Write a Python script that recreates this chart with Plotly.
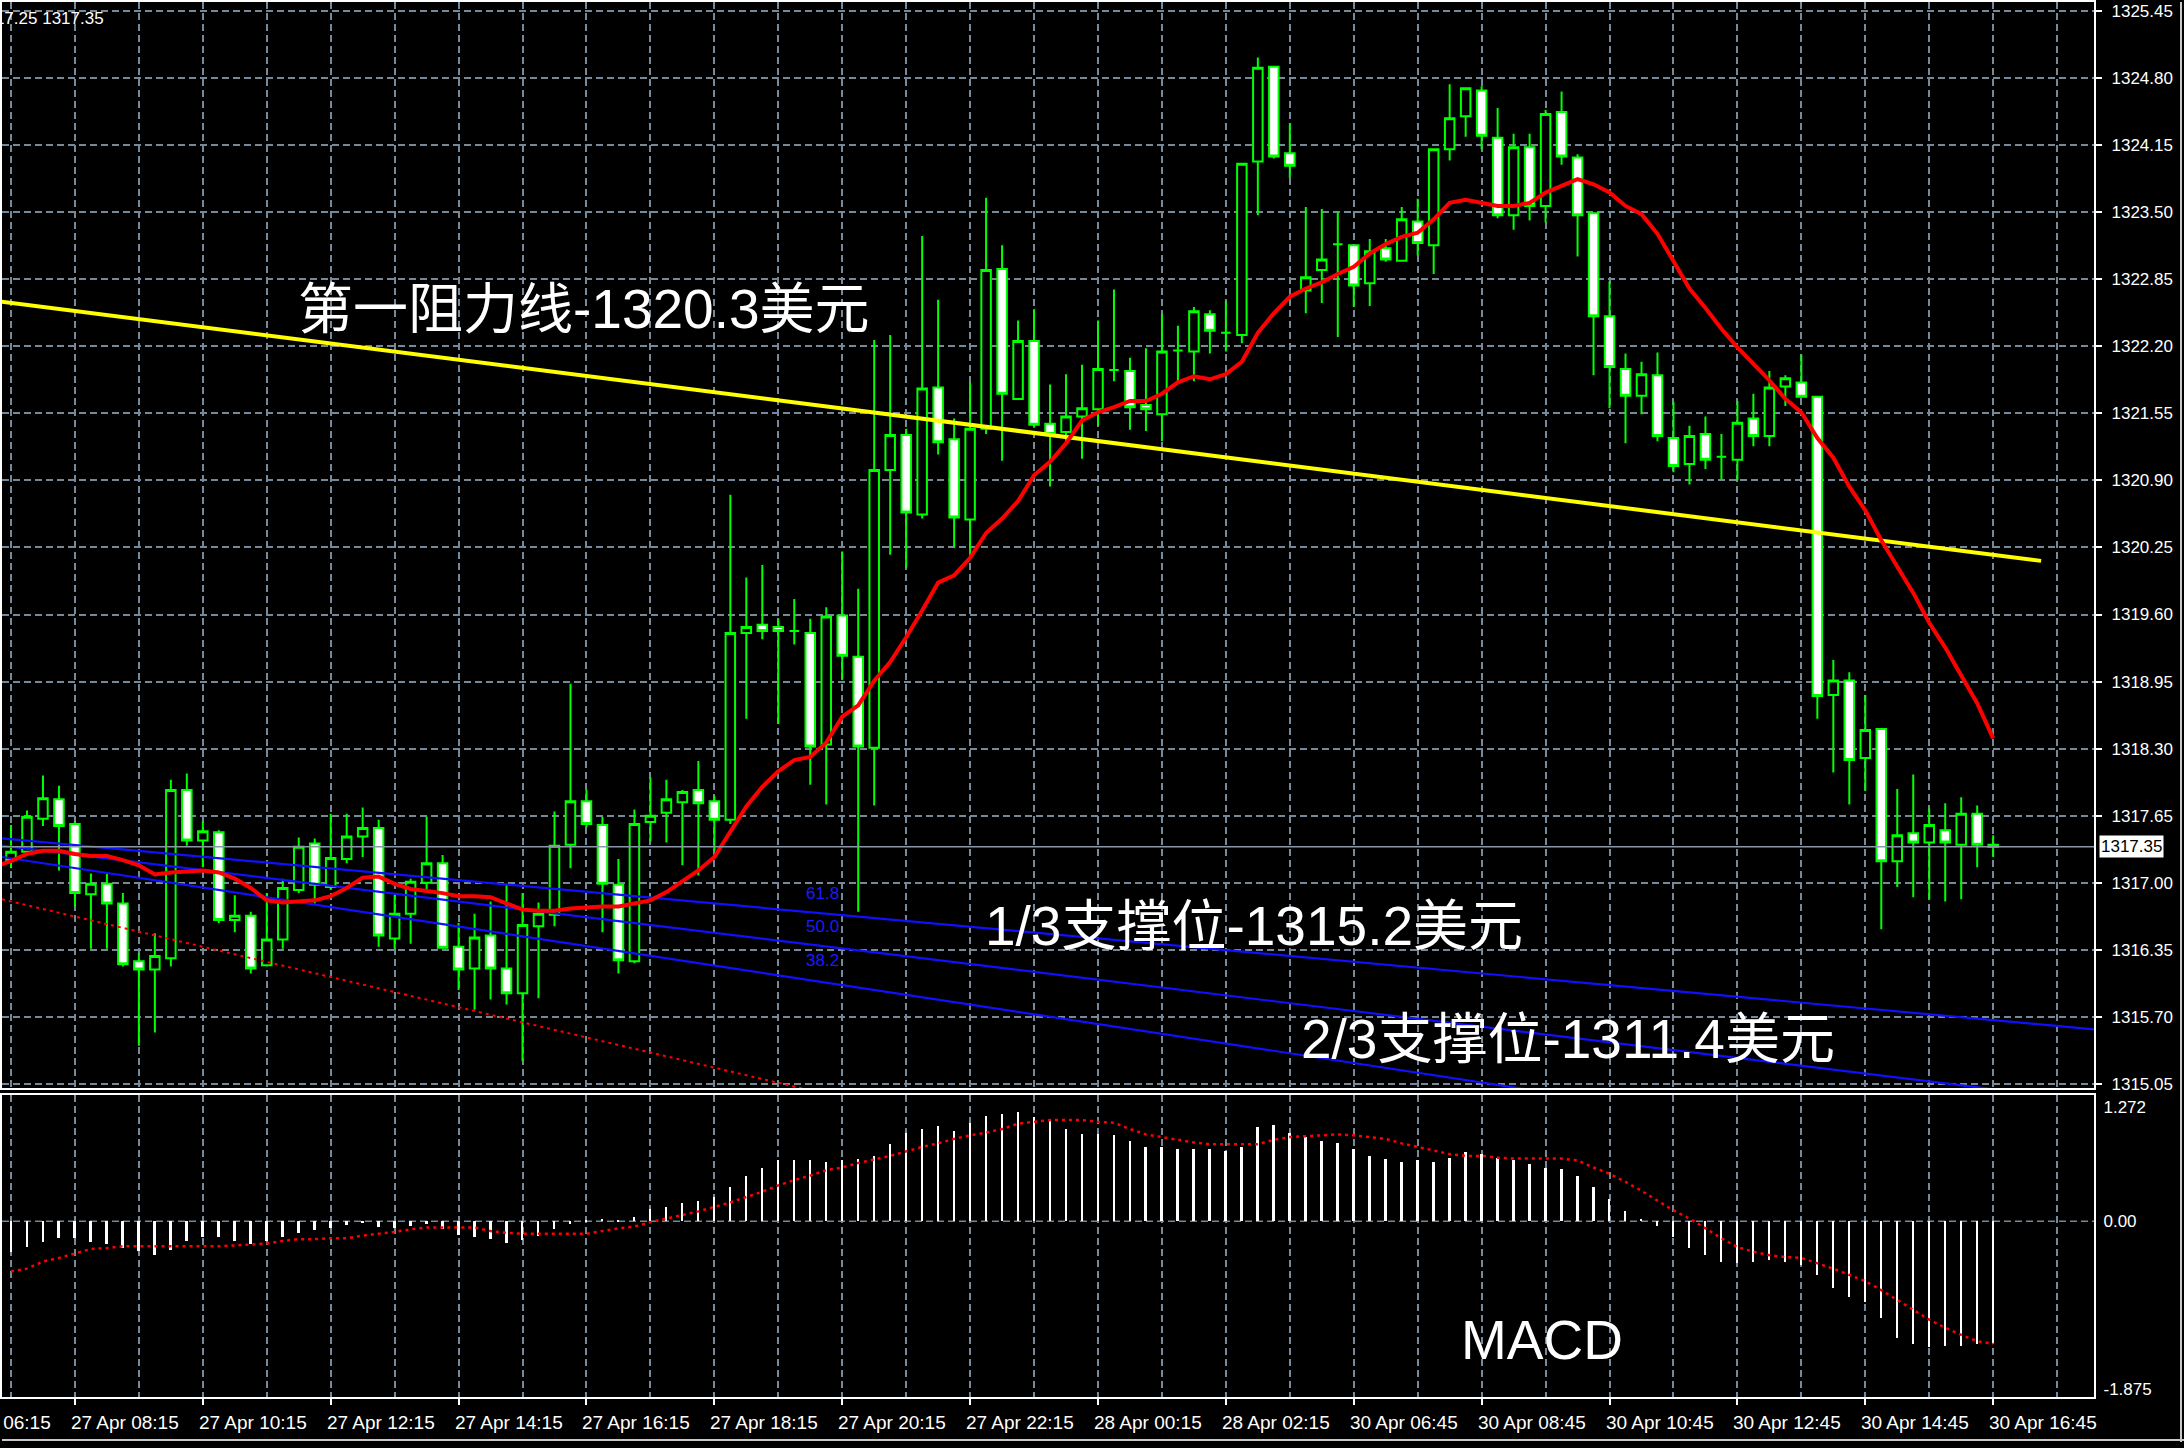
import plotly.graph_objects as go

# ---- 15-minute XAUUSD candles; bar index 8 = 27 Apr 08:15 ----
bar_idx = list(range(4, 129))

opens = [1317.22, 1317.30, 1317.62, 1317.81, 1317.57, 1316.89, 1316.99, 1316.80, 1316.24, 1316.16,
         1316.27, 1317.90, 1317.41, 1317.49, 1316.64, 1316.68, 1316.20, 1316.45, 1316.93, 1317.38,
         1316.96, 1317.23, 1317.45, 1317.53, 1316.46, 1316.70, 1317.00, 1317.19, 1316.38, 1316.17,
         1316.49, 1316.17, 1315.93, 1316.58, 1316.69, 1317.37, 1317.79, 1317.56, 1316.98, 1316.24,
         1317.59, 1317.68, 1317.78, 1317.90, 1317.79, 1317.61, 1319.42, 1319.50, 1319.48, 1319.44,
         1319.42, 1318.34, 1319.59, 1319.19, 1318.31, 1321.00, 1321.34, 1320.57, 1321.80, 1321.30,
         1320.52, 1321.40, 1322.95, 1321.69, 1322.25, 1321.45, 1321.37, 1321.52, 1321.59, 1321.97,
         1321.96, 1321.63, 1321.54, 1322.16, 1322.15, 1322.51, 1322.33, 1322.31, 1323.99, 1324.91,
         1324.07, 1322.74, 1322.94, 1323.19, 1323.18, 1322.81, 1323.15, 1323.03, 1323.41, 1323.18,
         1324.11, 1324.43, 1324.68, 1324.22, 1323.47, 1324.13, 1323.56, 1324.47, 1324.03, 1323.49,
         1322.49, 1321.98, 1321.72, 1321.92, 1321.31, 1321.06, 1321.35, 1321.13, 1321.10, 1321.50,
         1321.33, 1321.81, 1321.85, 1321.71, 1318.82, 1318.96, 1318.21, 1318.49, 1317.21, 1317.48,
         1317.39, 1317.51, 1317.37, 1317.67, 1317.37]

highs = [1317.56, 1317.70, 1318.04, 1317.94, 1317.60, 1317.09, 1317.09, 1316.90, 1316.32, 1316.51,
         1318.00, 1318.06, 1317.60, 1317.51, 1316.88, 1316.72, 1316.90, 1317.04, 1317.44, 1317.43,
         1317.67, 1317.67, 1317.73, 1317.61, 1316.88, 1317.04, 1317.64, 1317.27, 1316.61, 1316.70,
         1316.82, 1316.99, 1316.90, 1316.81, 1317.69, 1318.93, 1317.90, 1317.64, 1317.23, 1317.71,
         1318.02, 1318.00, 1317.90, 1318.18, 1317.84, 1320.76, 1319.96, 1320.08, 1319.56, 1319.75,
         1319.56, 1319.67, 1320.21, 1319.85, 1322.26, 1322.31, 1321.40, 1323.27, 1322.65, 1321.50,
         1321.85, 1323.64, 1323.18, 1322.45, 1322.56, 1321.83, 1321.93, 1322.02, 1322.45, 1322.75,
         1322.09, 1322.18, 1322.51, 1322.40, 1322.58, 1322.55, 1322.64, 1323.97, 1325.00, 1324.91,
         1324.36, 1323.55, 1323.53, 1323.50, 1323.18, 1323.24, 1323.24, 1323.55, 1323.63, 1324.11,
         1324.74, 1324.70, 1324.72, 1324.51, 1324.26, 1324.26, 1324.49, 1324.67, 1324.06, 1323.49,
         1322.83, 1322.13, 1322.05, 1322.14, 1321.66, 1321.43, 1321.52, 1321.35, 1321.67, 1321.74,
         1321.96, 1321.92, 1322.12, 1321.71, 1319.16, 1319.04, 1318.82, 1318.49, 1317.91, 1318.05,
         1317.72, 1317.77, 1317.83, 1317.75, 1317.46]

lows = [1317.14, 1317.28, 1317.55, 1317.12, 1316.77, 1316.36, 1316.36, 1316.19, 1315.42, 1315.55,
        1316.19, 1317.36, 1317.15, 1316.61, 1316.52, 1316.12, 1316.19, 1316.36, 1316.90, 1316.80,
        1316.93, 1317.19, 1317.25, 1316.38, 1316.36, 1316.41, 1316.93, 1316.36, 1315.96, 1315.77,
        1315.87, 1315.82, 1315.27, 1315.88, 1316.58, 1317.14, 1317.54, 1316.52, 1316.12, 1316.22,
        1317.40, 1317.39, 1317.17, 1317.07, 1317.31, 1317.57, 1318.59, 1319.36, 1318.54, 1319.31,
        1317.95, 1317.76, 1318.97, 1316.72, 1317.75, 1320.18, 1320.05, 1320.53, 1321.15, 1320.25,
        1320.20, 1321.35, 1321.09, 1321.68, 1321.41, 1320.84, 1321.24, 1321.11, 1321.43, 1321.86,
        1321.39, 1321.38, 1321.28, 1321.85, 1321.86, 1322.13, 1322.15, 1322.23, 1323.47, 1324.02,
        1323.83, 1322.52, 1322.62, 1322.29, 1322.58, 1322.59, 1323.02, 1323.03, 1323.08, 1322.90,
        1324.00, 1324.23, 1324.11, 1323.44, 1323.33, 1323.42, 1323.40, 1323.96, 1323.07, 1321.92,
        1321.60, 1321.26, 1321.54, 1321.28, 1320.98, 1320.86, 1321.01, 1320.91, 1320.90, 1321.23,
        1321.23, 1321.62, 1321.71, 1318.59, 1318.07, 1317.76, 1317.89, 1316.55, 1316.96, 1316.86,
        1316.84, 1316.82, 1316.84, 1317.15, 1317.25]

closes = [1317.30, 1317.64, 1317.82, 1317.55, 1316.90, 1316.99, 1316.80, 1316.21, 1316.16, 1316.29,
          1317.90, 1317.41, 1317.50, 1316.64, 1316.68, 1316.17, 1316.45, 1316.95, 1317.35, 1316.98,
          1317.24, 1317.45, 1317.53, 1316.49, 1316.70, 1317.01, 1317.19, 1316.37, 1316.16, 1316.47,
          1316.17, 1315.93, 1316.59, 1316.70, 1317.36, 1317.79, 1317.57, 1316.99, 1316.25, 1317.57,
          1317.65, 1317.81, 1317.88, 1317.77, 1317.61, 1319.42, 1319.48, 1319.44, 1319.44, 1319.44,
          1318.32, 1319.58, 1319.20, 1318.32, 1321.00, 1321.34, 1320.59, 1321.79, 1321.27, 1320.54,
          1321.40, 1322.94, 1321.74, 1322.25, 1321.44, 1321.35, 1321.52, 1321.60, 1321.98, 1321.97,
          1321.61, 1321.59, 1322.15, 1322.16, 1322.54, 1322.35, 1322.33, 1323.97, 1324.90, 1324.04,
          1323.95, 1322.87, 1323.04, 1323.19, 1322.79, 1323.12, 1323.04, 1323.43, 1323.20, 1324.11,
          1324.41, 1324.70, 1324.24, 1323.47, 1324.13, 1323.56, 1324.45, 1324.04, 1323.47, 1322.49,
          1322.00, 1321.72, 1321.93, 1321.33, 1321.04, 1321.33, 1321.10, 1321.13, 1321.46, 1321.33,
          1321.80, 1321.89, 1321.71, 1318.81, 1318.96, 1318.19, 1318.48, 1317.21, 1317.46, 1317.39,
          1317.56, 1317.39, 1317.67, 1317.37, 1317.35]

# moving average drawn over the candles
ma_idx = list(range(3, 129))
ma_line = [1317.16,
           1317.21, 1317.28, 1317.31, 1317.31, 1317.28, 1317.26, 1317.26, 1317.22, 1317.17, 1317.08,
           1317.10, 1317.11, 1317.12, 1317.10, 1317.04, 1316.95, 1316.83, 1316.81, 1316.82, 1316.83,
           1316.87, 1316.95, 1317.05, 1317.06, 1316.99, 1316.94, 1316.92, 1316.90, 1316.87, 1316.87,
           1316.86, 1316.80, 1316.74, 1316.73, 1316.73, 1316.75, 1316.76, 1316.77, 1316.77, 1316.80,
           1316.83, 1316.91, 1317.02, 1317.12, 1317.25, 1317.50, 1317.74, 1317.93, 1318.08, 1318.19,
           1318.22, 1318.36, 1318.61, 1318.72, 1318.96, 1319.14, 1319.38, 1319.64, 1319.91, 1319.98,
           1320.15, 1320.39, 1320.53, 1320.70, 1320.95, 1321.08, 1321.26, 1321.48, 1321.56, 1321.61,
           1321.67, 1321.67, 1321.74, 1321.85, 1321.91, 1321.88, 1321.93, 1322.05, 1322.33, 1322.52,
           1322.68, 1322.76, 1322.82, 1322.90, 1322.97, 1323.10, 1323.19, 1323.26, 1323.30, 1323.43,
           1323.59, 1323.62, 1323.59, 1323.56, 1323.56, 1323.59, 1323.69, 1323.76, 1323.82, 1323.77,
           1323.69, 1323.56, 1323.48, 1323.29, 1323.03, 1322.76, 1322.57, 1322.37, 1322.19, 1322.03,
           1321.87, 1321.69, 1321.56, 1321.31, 1321.12, 1320.84, 1320.61, 1320.32, 1320.06, 1319.81,
           1319.52, 1319.28, 1319.01, 1318.74, 1318.40]

# MACD main (histogram) and signal line
macd_hist = [-0.34, -0.29, -0.23, -0.19, -0.19, -0.23, -0.25, -0.30, -0.33, -0.38,
             -0.32, -0.22, -0.18, -0.17, -0.22, -0.25, -0.22, -0.18, -0.13, -0.10,
             -0.07, -0.04, -0.02, -0.06, -0.08, -0.05, -0.03, -0.09, -0.15, -0.17,
             -0.20, -0.24, -0.21, -0.16, -0.09, -0.03, 0.02, 0.03, 0.01, 0.05,
             0.14, 0.16, 0.20, 0.23, 0.27, 0.38, 0.51, 0.60, 0.69, 0.69,
             0.68, 0.66, 0.68, 0.70, 0.73, 0.86, 0.99, 1.03, 1.07, 1.01,
             1.10, 1.18, 1.20, 1.22, 1.17, 1.14, 1.03, 0.97, 0.97, 0.96,
             0.90, 0.83, 0.83, 0.81, 0.81, 0.81, 0.79, 0.83, 1.05, 1.08,
             0.99, 0.94, 0.90, 0.88, 0.81, 0.73, 0.70, 0.66, 0.68, 0.66,
             0.71, 0.77, 0.75, 0.71, 0.68, 0.64, 0.60, 0.58, 0.51, 0.38,
             0.25, 0.12, 0.03, -0.05, -0.18, -0.30, -0.38, -0.45, -0.47, -0.45,
             -0.43, -0.45, -0.49, -0.60, -0.75, -0.85, -0.90, -1.08, -1.30, -1.37,
             -1.41, -1.39, -1.39, -1.37, -1.36]

macd_signal = [-0.56, -0.53, -0.45, -0.41, -0.36, -0.31, -0.30, -0.28, -0.28, -0.28,
               -0.28, -0.28, -0.28, -0.28, -0.27, -0.26, -0.25, -0.22, -0.20, -0.20,
               -0.19, -0.19, -0.16, -0.14, -0.12, -0.09, -0.07, -0.07, -0.07, -0.07,
               -0.11, -0.13, -0.14, -0.14, -0.14, -0.14, -0.14, -0.11, -0.08, -0.06,
               -0.01, 0.03, 0.07, 0.11, 0.16, 0.21, 0.27, 0.33, 0.40, 0.46,
               0.51, 0.57, 0.60, 0.65, 0.69, 0.73, 0.78, 0.83, 0.87, 0.92,
               0.96, 0.99, 1.03, 1.09, 1.11, 1.13, 1.13, 1.13, 1.11, 1.10,
               1.03, 0.97, 0.94, 0.91, 0.88, 0.86, 0.86, 0.86, 0.86, 0.91,
               0.94, 0.95, 0.96, 0.97, 0.96, 0.94, 0.92, 0.87, 0.83, 0.79,
               0.75, 0.73, 0.73, 0.71, 0.70, 0.70, 0.70, 0.70, 0.68, 0.60,
               0.53, 0.44, 0.34, 0.23, 0.12, 0.03, -0.08, -0.19, -0.29, -0.34,
               -0.38, -0.40, -0.41, -0.47, -0.53, -0.60, -0.67, -0.77, -0.88, -0.99,
               -1.10, -1.19, -1.27, -1.34, -1.37]

# resistance trend line and Fibonacci fan (bar index, price)
resist_x = [3.0, 131.0]
resist_y = [1322.64, 1320.12]
fan_x = [3.44, 134.31]
fan_618 = [1317.43, 1315.58]
fan_500 = [1317.36, 1314.88]
fan_382 = [1317.25, 1314.16]
fan_base_x = [3.44, 59.7]
fan_base_y = [1316.84, 1314.78]
fan_labels = ["61.8", "50.0", "38.2"]
fan_label_y = [1316.90, 1316.58, 1316.25]
fan_label_x = 55.9

# axis ticks
price_ticks = [1315.05, 1315.70, 1316.35, 1317.00, 1317.65, 1318.30, 1318.95, 1319.60,
               1320.25, 1320.90, 1321.55, 1322.20, 1322.85, 1323.50, 1324.15, 1324.80, 1325.45]
macd_ticks = [1.272, 0.0, -1.875]
macd_tick_text = ["1.272", "0.00", "-1.875"]
time_tick_idx = [0, 8, 16, 24, 32, 40, 48, 56, 64, 72, 80, 88, 96, 104, 112, 120, 128]
time_tick_text = ["27 Apr 06:15", "27 Apr 08:15", "27 Apr 10:15", "27 Apr 12:15",
                  "27 Apr 14:15", "27 Apr 16:15", "27 Apr 18:15", "27 Apr 20:15",
                  "27 Apr 22:15", "28 Apr 00:15", "28 Apr 02:15", "30 Apr 06:45",
                  "30 Apr 08:45", "30 Apr 10:45", "30 Apr 12:45", "30 Apr 14:45",
                  "30 Apr 16:45"]
grid_idx = list(range(0, 136, 4))

# ---- layout geometry ----
W, H = 2184, 1448
X_RANGE = [3.4375, 134.3125]
X_DOM = [0, 2094 / W]
PRICE_DOM = [(H - 1092) / H, 1.0]
PRICE_RANGE = [1315.0116, 1325.5367]
MACD_DOM = [(H - 1403) / H, (H - 1099) / H]
MACD_RANGE = [-1.9667, 1.4111]

GRID = "#778899"
LIME = "#00ff00"
SANS = "Liberation Sans, Arial, sans-serif"
TICK_FONT = dict(family=SANS, size=17, color="#ffffff")
BIG_FONT = dict(family="Liberation Sans, Noto Sans CJK SC, sans-serif", size=55, color="#ffffff")


def x_to_paper(k):
    return X_DOM[0] + (k - X_RANGE[0]) / (X_RANGE[1] - X_RANGE[0]) * (X_DOM[1] - X_DOM[0])


fig = go.Figure()

# Fibonacci fan base (dotted red) and fan lines
fig.add_trace(go.Scatter(x=fan_base_x, y=fan_base_y, mode="lines",
                         line=dict(color="#ff0000", width=2, dash="3px,4px"),
                         xaxis="x", yaxis="y", hoverinfo="skip"))
for ys in (fan_618, fan_500, fan_382):
    fig.add_trace(go.Scatter(x=fan_x, y=ys, mode="lines",
                             line=dict(color="#1010ff", width=2.2),
                             xaxis="x", yaxis="y", hoverinfo="skip"))

# resistance line
fig.add_trace(go.Scatter(x=resist_x, y=resist_y, mode="lines",
                         line=dict(color="#ffff00", width=4),
                         xaxis="x", yaxis="y", hoverinfo="skip"))

# candles
fig.add_trace(go.Candlestick(
    x=bar_idx, open=opens, high=highs, low=lows, close=closes,
    increasing=dict(line=dict(color=LIME, width=2), fillcolor="#000000"),
    decreasing=dict(line=dict(color=LIME, width=2), fillcolor="#ffffff"),
    whiskerwidth=0, xaxis="x", yaxis="y", hoverinfo="skip"))

# moving average
fig.add_trace(go.Scatter(x=ma_idx, y=ma_line, mode="lines",
                         line=dict(color="#ff0000", width=4),
                         xaxis="x", yaxis="y", hoverinfo="skip"))

# MACD pane
fig.add_trace(go.Bar(x=bar_idx, y=macd_hist, width=0.12,
                     marker=dict(color="#ffffff", line=dict(width=0)),
                     xaxis="x2", yaxis="y2", hoverinfo="skip"))
fig.add_trace(go.Scatter(x=bar_idx, y=macd_signal, mode="lines",
                         line=dict(color="#ff0000", width=2.5, dash="3px,4px"),
                         xaxis="x2", yaxis="y2", hoverinfo="skip"))

axis_common = dict(showline=True, linecolor="#ffffff", linewidth=2, mirror=True,
                   zeroline=False)

fig.update_layout(
    width=W, height=H,
    margin=dict(l=0, r=0, t=0, b=0),
    paper_bgcolor="#000000", plot_bgcolor="#000000",
    showlegend=False, bargap=0,
    boxgap=0.15, boxgroupgap=0.3,
    xaxis=dict(domain=X_DOM, range=X_RANGE, anchor="y",
               tickvals=grid_idx, showticklabels=False, ticks="",
               showgrid=True, gridcolor=GRID, gridwidth=1.5, griddash="7px,4px",
               rangeslider=dict(visible=False), **axis_common),
    yaxis=dict(domain=PRICE_DOM, range=PRICE_RANGE, anchor="x", side="right",
               tickvals=price_ticks, ticktext=[f"{v:.2f}" for v in price_ticks],
               tickfont=TICK_FONT, ticks="outside", ticklen=6, tickcolor="#ffffff",
               tickwidth=1.5, ticklabelstandoff=6,
               showgrid=True, gridcolor=GRID, gridwidth=1.5, griddash="7px,4px",
               **axis_common),
    xaxis2=dict(domain=X_DOM, range=X_RANGE, anchor="y2", matches="x",
                tickvals=time_tick_idx, showticklabels=False, ticks="outside",
                ticklen=6, tickcolor="#ffffff", tickwidth=1.5,
                showgrid=True, gridcolor=GRID, gridwidth=1.5, griddash="7px,4px",
                minor=dict(tickvals=grid_idx, showgrid=True, gridcolor=GRID,
                           gridwidth=1.5, griddash="7px,4px", ticks=""),
                **axis_common),
    yaxis2=dict(domain=MACD_DOM, range=MACD_RANGE, anchor="x2", side="right",
                tickvals=macd_ticks, ticktext=macd_tick_text, tickfont=TICK_FONT,
                ticks="", ticklabelstandoff=4, showgrid=False, **axis_common),
)

# dashed zero level of the MACD pane
fig.add_shape(type="line", xref="x2 domain", yref="y2", x0=0, x1=1, y0=0, y1=0,
              line=dict(color=GRID, width=1.5, dash="7px,4px"), layer="below")

# last-price line
fig.add_shape(type="line", xref="x domain", yref="y", x0=0, x1=1,
              y0=closes[-1], y1=closes[-1], line=dict(color="#8a97a6", width=1.5))

# outer window edges
fig.add_shape(type="line", xref="paper", yref="paper", x0=0, x1=1, y0=2 / H, y1=2 / H,
              line=dict(color="#c8c8c8", width=2))
fig.add_shape(type="line", xref="paper", yref="paper", x0=2181 / W, x1=2181 / W, y0=0, y1=1,
              line=dict(color="#c8c8c8", width=2))

annotations = []
# time labels, starting at their bar
for k, txt in zip(time_tick_idx, time_tick_text):
    annotations.append(dict(xref="paper", yref="paper", x=x_to_paper(k) - 6 / W,
                            y=(H - 1428) / H, text=txt, showarrow=False,
                            xanchor="left", yanchor="middle",
                            font=dict(family=SANS, size=19, color="#ffffff")))
# last price tag on the price scale
annotations.append(dict(xref="paper", yref="y", x=2099 / W, y=closes[-1],
                        text=f"{closes[-1]:.2f}", showarrow=False, xanchor="left",
                        yanchor="middle", bgcolor="#ffffff", borderpad=1,
                        font=dict(family=SANS, size=17, color="#000000")))
# symbol OHLC strip at top-left (low and close of the last bar)
annotations.append(dict(xref="paper", yref="paper", x=104 / W, y=(H - 17) / H,
                        text=f"{lows[-1]:.2f} {closes[-1]:.2f}", showarrow=False,
                        xanchor="right", yanchor="middle",
                        font=dict(family=SANS, size=17, color="#ffffff")))
# fan level labels
for lab, yv in zip(fan_labels, fan_label_y):
    annotations.append(dict(xref="x", yref="y", x=fan_label_x, y=yv, text=lab,
                            showarrow=False, xanchor="right", yanchor="middle",
                            font=dict(family=SANS, size=17, color="#1a1aff")))
# commentary labels
annotations.append(dict(xref="x", yref="y", x=21.8, y=1322.56, text="第一阻力线-1320.3美元",
                        showarrow=False, xanchor="left", yanchor="middle", font=BIG_FONT))
annotations.append(dict(xref="x", yref="y", x=64.8, y=1316.58, text="1/3支撑位-1315.2美元",
                        showarrow=False, xanchor="left", yanchor="middle", font=BIG_FONT))
annotations.append(dict(xref="x", yref="y", x=84.6, y=1315.49, text="2/3支撑位-1311.4美元",
                        showarrow=False, xanchor="left", yanchor="middle", font=BIG_FONT))
annotations.append(dict(xref="x2", yref="y2", x=94.6, y=-1.33, text="MACD",
                        showarrow=False, xanchor="left", yanchor="middle",
                        font=dict(family=SANS, size=55, color="#ffffff")))
fig.update_layout(annotations=annotations)

fig.write_html("out.html")
